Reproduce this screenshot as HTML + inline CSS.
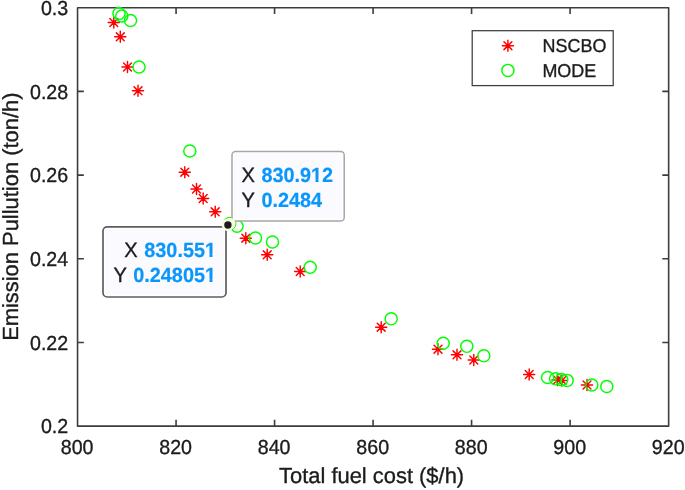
<!DOCTYPE html>
<html><head><meta charset="utf-8"><title>Pareto front</title>
<style>html,body{margin:0;padding:0;background:#fff;}svg{display:block;will-change:transform;opacity:0.999;}text{font-family:"Liberation Sans",sans-serif;text-rendering:geometricPrecision;}</style></head><body>
<svg width="685" height="490" viewBox="0 0 685 490">
<rect x="0" y="0" width="685" height="490" fill="#ffffff"/>
<rect x="77.55" y="7.75" width="591.1" height="418.4" fill="none" stroke="#3d3d3d" stroke-width="1.6" stroke-linejoin="round"/>
<path d="M176.06,426.1v-6.3M176.06,7.75v6.3M274.57,426.1v-6.3M274.57,7.75v6.3M373.08,426.1v-6.3M373.08,7.75v6.3M471.58,426.1v-6.3M471.58,7.75v6.3M570.09,426.1v-6.3M570.09,7.75v6.3M77.55,91.42h6.3M668.6,91.42h-6.3M77.55,175.09h6.3M668.6,175.09h-6.3M77.55,258.76h6.3M668.6,258.76h-6.3M77.55,342.43h6.3M668.6,342.43h-6.3" fill="none" stroke="#3d3d3d" stroke-width="1.6"/>
<text transform="translate(77.15,454.40) scale(0.9676,1)" font-size="20.30" text-anchor="middle" fill="#1c1c1c" stroke="#1c1c1c" stroke-width="0.35" stroke-linejoin="round">800</text>
<text transform="translate(175.66,454.40) scale(0.9676,1)" font-size="20.30" text-anchor="middle" fill="#1c1c1c" stroke="#1c1c1c" stroke-width="0.35" stroke-linejoin="round">820</text>
<text transform="translate(274.17,454.40) scale(0.9676,1)" font-size="20.30" text-anchor="middle" fill="#1c1c1c" stroke="#1c1c1c" stroke-width="0.35" stroke-linejoin="round">840</text>
<text transform="translate(372.68,454.40) scale(0.9676,1)" font-size="20.30" text-anchor="middle" fill="#1c1c1c" stroke="#1c1c1c" stroke-width="0.35" stroke-linejoin="round">860</text>
<text transform="translate(471.18,454.40) scale(0.9676,1)" font-size="20.30" text-anchor="middle" fill="#1c1c1c" stroke="#1c1c1c" stroke-width="0.35" stroke-linejoin="round">880</text>
<text transform="translate(569.69,454.40) scale(0.9676,1)" font-size="20.30" text-anchor="middle" fill="#1c1c1c" stroke="#1c1c1c" stroke-width="0.35" stroke-linejoin="round">900</text>
<text transform="translate(668.20,454.40) scale(0.9676,1)" font-size="20.30" text-anchor="middle" fill="#1c1c1c" stroke="#1c1c1c" stroke-width="0.35" stroke-linejoin="round">920</text>
<text transform="translate(68.20,15.10) scale(0.9676,1)" font-size="20.30" text-anchor="end" fill="#1c1c1c" stroke="#1c1c1c" stroke-width="0.35" stroke-linejoin="round">0.3</text>
<text transform="translate(68.20,98.77) scale(0.9676,1)" font-size="20.30" text-anchor="end" fill="#1c1c1c" stroke="#1c1c1c" stroke-width="0.35" stroke-linejoin="round">0.28</text>
<text transform="translate(68.20,182.44) scale(0.9676,1)" font-size="20.30" text-anchor="end" fill="#1c1c1c" stroke="#1c1c1c" stroke-width="0.35" stroke-linejoin="round">0.26</text>
<text transform="translate(68.20,266.11) scale(0.9676,1)" font-size="20.30" text-anchor="end" fill="#1c1c1c" stroke="#1c1c1c" stroke-width="0.35" stroke-linejoin="round">0.24</text>
<text transform="translate(68.20,349.78) scale(0.9676,1)" font-size="20.30" text-anchor="end" fill="#1c1c1c" stroke="#1c1c1c" stroke-width="0.35" stroke-linejoin="round">0.22</text>
<text transform="translate(68.20,433.45) scale(0.9676,1)" font-size="20.30" text-anchor="end" fill="#1c1c1c" stroke="#1c1c1c" stroke-width="0.35" stroke-linejoin="round">0.2</text>
<text transform="translate(371.60,483.40) scale(1.0020,1)" font-size="21.87" text-anchor="middle" fill="#1c1c1c" stroke="#1c1c1c" stroke-width="0.35" stroke-linejoin="round">Total fuel cost ($/h)</text>
<text transform="translate(18.30,216.70) rotate(-90) scale(1.0020,1)" font-size="21.87" text-anchor="middle" fill="#1c1c1c" stroke="#1c1c1c" stroke-width="0.35" stroke-linejoin="round">Emission Pullution (ton/h)</text>
<path d="M108.25,22.50H119.35M113.80,16.95V28.05M109.88,18.58L117.72,26.42M109.88,26.42L117.72,18.58M114.75,36.80H125.85M120.30,31.25V42.35M116.38,32.88L124.22,40.72M116.38,40.72L124.22,32.88M121.95,67.00H133.05M127.50,61.45V72.55M123.58,63.08L131.42,70.92M123.58,70.92L131.42,63.08M132.45,90.80H143.55M138.00,85.25V96.35M134.08,86.88L141.92,94.72M134.08,94.72L141.92,86.88M179.25,172.20H190.35M184.80,166.65V177.75M180.88,168.28L188.72,176.12M180.88,176.12L188.72,168.28M190.95,189.00H202.05M196.50,183.45V194.55M192.58,185.08L200.42,192.92M192.58,192.92L200.42,185.08M197.65,198.50H208.75M203.20,192.95V204.05M199.28,194.58L207.12,202.42M199.28,202.42L207.12,194.58M209.65,211.80H220.75M215.20,206.25V217.35M211.28,207.88L219.12,215.72M211.28,215.72L219.12,207.88M240.25,238.20H251.35M245.80,232.65V243.75M241.88,234.28L249.72,242.12M241.88,242.12L249.72,234.28M261.65,254.80H272.75M267.20,249.25V260.35M263.28,250.88L271.12,258.72M263.28,258.72L271.12,250.88M294.65,271.50H305.75M300.20,265.95V277.05M296.28,267.58L304.12,275.42M296.28,275.42L304.12,267.58M375.65,327.20H386.75M381.20,321.65V332.75M377.28,323.28L385.12,331.12M377.28,331.12L385.12,323.28M432.45,349.20H443.55M438.00,343.65V354.75M434.08,345.28L441.92,353.12M434.08,353.12L441.92,345.28M451.45,354.80H462.55M457.00,349.25V360.35M453.08,350.88L460.92,358.72M453.08,358.72L460.92,350.88M468.25,360.00H479.35M473.80,354.45V365.55M469.88,356.08L477.72,363.92M469.88,363.92L477.72,356.08M523.65,374.50H534.75M529.20,368.95V380.05M525.28,370.58L533.12,378.42M525.28,378.42L533.12,370.58M551.85,380.00H562.95M557.40,374.45V385.55M553.48,376.08L561.32,383.92M553.48,383.92L561.32,376.08M556.45,380.40H567.55M562.00,374.85V385.95M558.08,376.48L565.92,384.32M558.08,384.32L565.92,376.48M581.45,385.00H592.55M587.00,379.45V390.55M583.08,381.08L590.92,388.92M583.08,388.92L590.92,381.08" fill="none" stroke="#ff0000" stroke-width="1.45" stroke-linecap="round"/>
<circle cx="119" cy="13.5" r="6.05" fill="none" stroke="#00ff00" stroke-width="1.45"/>
<circle cx="121.8" cy="16" r="6.05" fill="none" stroke="#00ff00" stroke-width="1.45"/>
<circle cx="130.5" cy="20.5" r="6.05" fill="none" stroke="#00ff00" stroke-width="1.45"/>
<circle cx="139" cy="67" r="6.05" fill="none" stroke="#00ff00" stroke-width="1.45"/>
<circle cx="189.8" cy="151" r="6.05" fill="none" stroke="#00ff00" stroke-width="1.45"/>
<circle cx="229.7" cy="223.5" r="6.05" fill="none" stroke="#00ff00" stroke-width="1.45"/>
<circle cx="237" cy="226.2" r="6.05" fill="none" stroke="#00ff00" stroke-width="1.45"/>
<circle cx="255.5" cy="238" r="6.05" fill="none" stroke="#00ff00" stroke-width="1.45"/>
<circle cx="272.5" cy="242" r="6.05" fill="none" stroke="#00ff00" stroke-width="1.45"/>
<circle cx="310.2" cy="267.2" r="6.05" fill="none" stroke="#00ff00" stroke-width="1.45"/>
<circle cx="391.2" cy="318.8" r="6.05" fill="none" stroke="#00ff00" stroke-width="1.45"/>
<circle cx="443.2" cy="343.3" r="6.05" fill="none" stroke="#00ff00" stroke-width="1.45"/>
<circle cx="466.8" cy="346.3" r="6.05" fill="none" stroke="#00ff00" stroke-width="1.45"/>
<circle cx="483.8" cy="355.8" r="6.05" fill="none" stroke="#00ff00" stroke-width="1.45"/>
<circle cx="547.6" cy="377.5" r="6.05" fill="none" stroke="#00ff00" stroke-width="1.45"/>
<circle cx="555.6" cy="378.8" r="6.05" fill="none" stroke="#00ff00" stroke-width="1.45"/>
<circle cx="561.7" cy="379.6" r="6.05" fill="none" stroke="#00ff00" stroke-width="1.45"/>
<circle cx="567.1" cy="380.4" r="6.05" fill="none" stroke="#00ff00" stroke-width="1.45"/>
<circle cx="591.8" cy="385" r="6.05" fill="none" stroke="#00ff00" stroke-width="1.45"/>
<circle cx="606.8" cy="386.5" r="6.05" fill="none" stroke="#00ff00" stroke-width="1.45"/>
<rect x="472.2" y="30.7" width="141" height="54.9" fill="#ffffff" stroke="#3d3d3d" stroke-width="1.25"/>
<path d="M502.35,45.70H513.45M507.90,40.15V51.25M503.98,41.78L511.82,49.62M503.98,49.62L511.82,41.78" fill="none" stroke="#ff0000" stroke-width="1.45" stroke-linecap="round"/>
<circle cx="507.9" cy="70.4" r="6.05" fill="none" stroke="#00ff00" stroke-width="1.45"/>
<text transform="translate(542.60,52.20) scale(0.9676,1)" font-size="18.56" fill="#1c1c1c" stroke="#1c1c1c" stroke-width="0.35" stroke-linejoin="round">NSCBO</text>
<text transform="translate(542.40,77.30) scale(0.9676,1)" font-size="18.56" fill="#1c1c1c" stroke="#1c1c1c" stroke-width="0.35" stroke-linejoin="round">MODE</text>
<rect x="232" y="151.5" width="112.2" height="69.5" rx="3.6" ry="3.6" fill="#ffffff" stroke="#a6a6a6" stroke-width="1.5"/>
<rect x="234" y="153.5" width="108.2" height="65.5" rx="2.1" ry="2.1" fill="#fafaff"/>
<rect x="103" y="226.8" width="123.0" height="70.2" rx="4.2" ry="4.2" fill="#ffffff" stroke="#5e5e5e" stroke-width="1.7"/>
<rect x="105" y="228.8" width="119.0" height="66.2" rx="2.7" ry="2.7" fill="#fafaff"/>
<text transform="translate(241.60,181.80) scale(0.9676,1)" font-size="20.76" fill="#1c1c1c" stroke="#1c1c1c" stroke-width="0.35" stroke-linejoin="round">X</text>
<text transform="translate(261.40,181.80) scale(0.9676,1)" font-size="20.50" font-weight="bold" fill="#0a96fa" stroke="#0a96fa" stroke-width="0.2" stroke-linejoin="round">830.912</text>
<text transform="translate(241.60,207.20) scale(0.9676,1)" font-size="20.76" fill="#1c1c1c" stroke="#1c1c1c" stroke-width="0.35" stroke-linejoin="round">Y</text>
<text transform="translate(261.40,207.20) scale(0.9676,1)" font-size="20.50" font-weight="bold" fill="#0a96fa" stroke="#0a96fa" stroke-width="0.2" stroke-linejoin="round">0.2484</text>
<text transform="translate(124.20,257.05) scale(0.9676,1)" font-size="20.76" fill="#1c1c1c" stroke="#1c1c1c" stroke-width="0.35" stroke-linejoin="round">X</text>
<text transform="translate(216.00,257.05) scale(0.9676,1)" font-size="20.50" text-anchor="end" font-weight="bold" fill="#0a96fa" stroke="#0a96fa" stroke-width="0.2" stroke-linejoin="round">830.551</text>
<text transform="translate(113.60,281.65) scale(0.9676,1)" font-size="20.76" fill="#1c1c1c" stroke="#1c1c1c" stroke-width="0.35" stroke-linejoin="round">Y</text>
<text transform="translate(216.00,281.65) scale(0.9676,1)" font-size="20.50" text-anchor="end" font-weight="bold" fill="#0a96fa" stroke="#0a96fa" stroke-width="0.2" stroke-linejoin="round">0.248051</text>
<path d="M205.48,253.7H209.48V257.6H205.48ZM212.5,253.7H216.3V257.6H212.5Z" fill="#fafaff"/>
<path d="M205.48,278.7H209.48V282.6H205.48ZM212.5,278.7H216.3V282.6H212.5Z" fill="#fafaff"/>
<path d="M311.48,178.7H315.48V182.6H311.48ZM318.5,178.7H322.3V182.6H318.5Z" fill="#fafaff"/>
<circle cx="229.7" cy="223.5" r="5.85" fill="#fbfbe2"/>
<circle cx="227.7" cy="224.9" r="6.1" fill="#fbfbe2"/>
<circle cx="227.9" cy="225.05" r="3.7" fill="#1c1c1c"/>
</svg></body></html>
